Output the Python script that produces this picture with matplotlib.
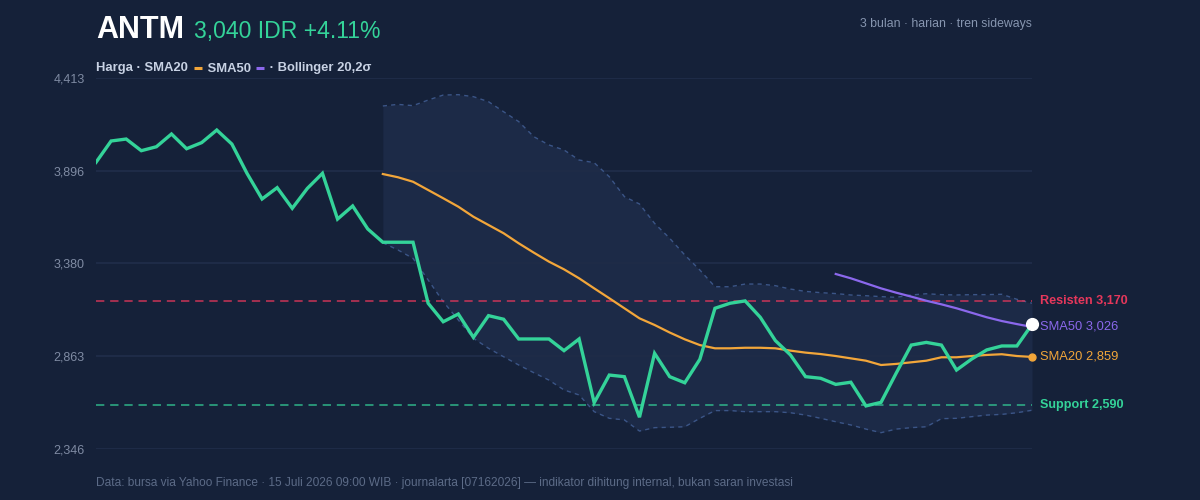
import matplotlib
matplotlib.use("Agg")
import matplotlib.pyplot as plt
from matplotlib.lines import Line2D
import numpy as np

plt.rcParams['font.family'] = ['Liberation Sans', 'DejaVu Sans']

# Daily closes, 3 months (IDR)
price = [3943, 4062, 4073, 4008, 4030, 4101, 4019, 4053, 4123, 4045,
         3882, 3739, 3802, 3687, 3798, 3882, 3627, 3700, 3572, 3498,
         3498, 3498, 3158, 3055, 3098, 2968, 3089, 3069, 2959, 2959,
         2959, 2894, 2959, 2604, 2758, 2749, 2523, 2879, 2749, 2715,
         2846, 3130, 3158, 3171, 3080, 2950, 2870, 2749, 2740, 2706,
         2718, 2586, 2606, 2768, 2925, 2940, 2925, 2786, 2847, 2898,
         2920, 2920, 3040]

# indicators (start at day 19 / day 49)
sma20_start = 19
sma20 = [3878, 3860, 3835, 3789, 3743, 3696, 3640, 3594, 3548, 3492,
         3440, 3390, 3347, 3297, 3241, 3186, 3130, 3074, 3037, 2995,
         2957, 2925, 2907, 2907, 2910, 2910, 2907, 2894, 2883, 2875,
         2864, 2851, 2838, 2814, 2820, 2829, 2838, 2857, 2857, 2864,
         2870, 2874, 2864, 2859]
bb_upper = [4257, 4266, 4259, 4290, 4318, 4320, 4309, 4281, 4225, 4170,
            4086, 4040, 4012, 3956, 3941, 3863, 3752, 3711, 3603, 3520,
            3427, 3343, 3250, 3250, 3265, 3265, 3256, 3237, 3224, 3217,
            3212, 3204, 3200, 3195, 3191, 3204, 3211, 3206, 3204, 3206,
            3206, 3208, 3180, 3158]
bb_lower = [3495, 3455, 3408, 3288, 3167, 3065, 2963, 2907, 2860, 2814,
            2771, 2730, 2675, 2647, 2554, 2517, 2508, 2446, 2465, 2467,
            2470, 2517, 2560, 2560, 2554, 2554, 2554, 2548, 2535, 2517,
            2498, 2480, 2457, 2437, 2457, 2465, 2470, 2515, 2517, 2526,
            2535, 2539, 2548, 2562]
sma50_start = 49
sma50 = [3321, 3297, 3269, 3241, 3217, 3195, 3172, 3152, 3130, 3105,
         3080, 3059, 3042, 3026]

resistance = 3170
support = 2590
yticks = [2346, 2863, 3380, 3896, 4413]

BG = '#152139'
FILL = '#1c2a47'
GRID = '#1f2c48'
GREEN = '#34d399'
ORANGE = '#f2a63a'
PURPLE = '#8b68ec'
RED = '#e5375b'
BAND = '#3b5587'

fig = plt.figure(figsize=(12, 5), dpi=100, facecolor=BG)
ax = fig.add_axes([0.08, 0.102, 0.78, 0.742])
ax.set_facecolor(BG)

x = np.arange(len(price))
x20 = np.arange(sma20_start, sma20_start + len(sma20))
x50 = np.arange(sma50_start, sma50_start + len(sma50))

ax.fill_between(x20, bb_lower, bb_upper, color=FILL, lw=0, zorder=1)
ax.plot(x20, bb_upper, color=BAND, lw=1.0, ls=(0, (3, 3)), zorder=2)
ax.plot(x20, bb_lower, color=BAND, lw=1.0, ls=(0, (3, 3)), zorder=2)

for t in yticks:
    ax.axhline(t, color=GRID, lw=1.4, zorder=1.5)

ax.axhline(resistance, color=RED, lw=1.2, ls=(0, (5, 3.5)), alpha=0.8, zorder=3)
ax.axhline(support, color=GREEN, lw=1.2, ls=(0, (5, 3.5)), alpha=0.75, zorder=3)

ax.plot(x20, sma20, color=ORANGE, lw=1.6, zorder=4)
ax.plot(x50, sma50, color=PURPLE, lw=1.6, zorder=4)
ax.plot(x, price, color=GREEN, lw=2.4, zorder=5, solid_joinstyle='miter')

ax.plot(x20[-1], sma20[-1], 'o', color=ORANGE, ms=5, zorder=6, clip_on=False)
ax.plot(x[-1], price[-1], 'o', color='white', ms=8.5, zorder=7, clip_on=False)

ax.set_xlim(0, len(price) - 1)
ax.set_ylim(yticks[0], yticks[-1])
ax.set_yticks(yticks)
ax.set_yticklabels([f'{t:,}' for t in yticks])
ax.tick_params(axis='y', length=0, pad=8, labelsize=9, labelcolor='#7f8ba3')
ax.set_xticks([])
for s in ax.spines.values():
    s.set_visible(False)

# right-hand labels
def tag(val, text, color, bold=False):
    ax.annotate(text, xy=(x[-1], val), xytext=(6, 0), textcoords='offset points',
                va='center', ha='left', fontsize=9.1 if bold else 9.3, color=color,
                fontweight='bold' if bold else 'normal', annotation_clip=False)

tag(resistance, f'Resisten {resistance:,}', RED, True)
tag(sma50[-1], f'SMA50 {sma50[-1]:,}', PURPLE)
tag(sma20[-1], f'SMA20 {sma20[-1]:,}', ORANGE)
tag(support, f'Support {support:,}', GREEN, True)

# header
renderer = fig.canvas.get_renderer()
W, H = fig.bbox.width, fig.bbox.height

fig.text(96 / W, 1 - 38 / H, 'ANTM', fontsize=22, fontweight='bold', color='white')
fig.text(194 / W, 1 - 38 / H, f'{price[-1]:,} IDR +{(price[-1] / price[-2] - 1) * 100:.2f}%',
         fontsize=16.6, color=GREEN)
fig.text(1032 / W, 1 - 26.5 / H, '3 bulan · harian · tren sideways', fontsize=8.8,
         color='#8796b0', ha='right')

# legend row
px = 96
base = 1 - 71.5 / H
def piece(s):
    global px
    t = fig.text(px / W, base, s, fontsize=9.4, fontweight='bold', color='#c8d2e4')
    px = t.get_window_extent(renderer).x1
def dash(c):
    global px
    y = base + 4 / H
    fig.add_artist(Line2D([(px + 2) / W, (px + 10) / W], [y, y], color=c, lw=2.2,
                          transform=fig.transFigure, solid_capstyle='butt'))
    px += 12

piece('Harga · SMA20 ')
dash(ORANGE)
piece(' SMA50 ')
dash(PURPLE)
piece(' · Bollinger 20,2σ')

fig.text(96 / W, 1 - 486 / H,
         'Data: bursa via Yahoo Finance · 15 Juli 2026 09:00 WIB · journalarta [07162026] — '
         'indikator dihitung internal, bukan saran investasi',
         fontsize=8.6, color='#5c6b87')

fig.savefig('out.png', dpi=100, facecolor=BG)
